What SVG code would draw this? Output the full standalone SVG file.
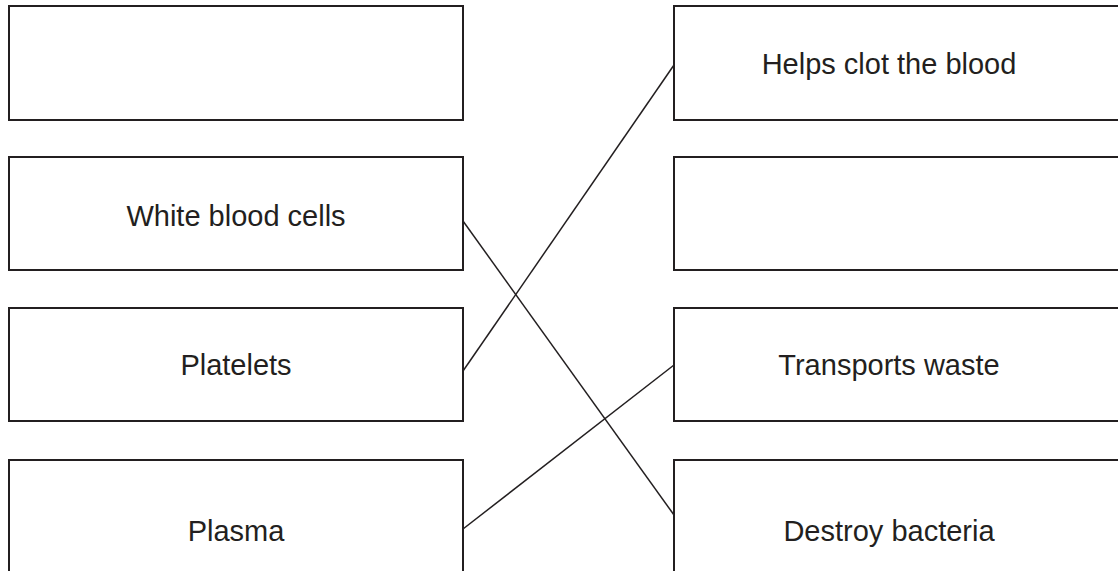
<svg xmlns="http://www.w3.org/2000/svg" width="1118" height="571" viewBox="0 0 1118 571">
<style>
.box{fill:#fff;stroke:#231f20;stroke-width:2}
.lbl{font-family:"Liberation Sans",Arial,sans-serif;font-size:29px;fill:#231f20;text-anchor:middle}
.conn{stroke:#231f20;stroke-width:1.5;fill:none}
</style>
<rect width="1118" height="571" fill="#fff"/>
<g id="left-1"><rect class="box" x="9" y="6" width="454" height="114"/></g>
<g id="left-2"><rect class="box" x="9" y="157" width="454" height="113"/><text class="lbl" x="236" y="226">White blood cells</text></g>
<g id="left-3"><rect class="box" x="9" y="308" width="454" height="113"/><text class="lbl" x="236" y="375">Platelets</text></g>
<g id="left-4"><rect class="box" x="9" y="460" width="454" height="120"/><text class="lbl" x="236" y="541">Plasma</text></g>
<g id="right-1"><rect class="box" x="674" y="6" width="460" height="114"/><text class="lbl" x="889" y="74">Helps clot the blood</text></g>
<g id="right-2"><rect class="box" x="674" y="157" width="460" height="113"/></g>
<g id="right-3"><rect class="box" x="674" y="308" width="460" height="113"/><text class="lbl" x="889" y="375">Transports waste</text></g>
<g id="right-4"><rect class="box" x="674" y="460" width="460" height="120"/><text class="lbl" x="889" y="541">Destroy bacteria</text></g>
<g id="connectors">
<line class="conn" x1="463" y1="221" x2="674" y2="515"/>
<line class="conn" x1="463" y1="371" x2="674" y2="65"/>
<line class="conn" x1="463" y1="529" x2="674" y2="365"/>
</g>
</svg>
